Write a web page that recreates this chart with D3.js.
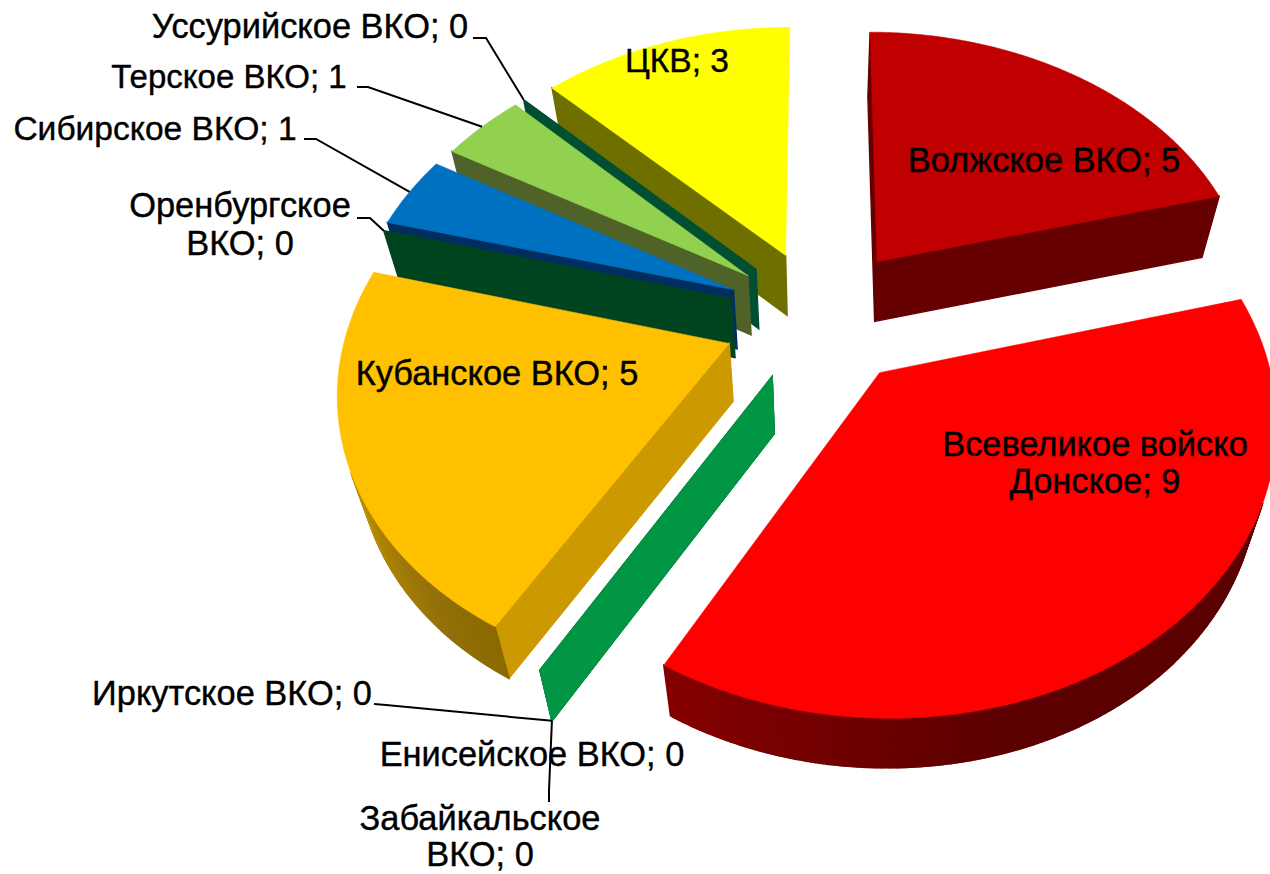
<!DOCTYPE html>
<html>
<head>
<meta charset="utf-8">
<script src="https://cdn.jsdelivr.net/npm/d3@7"></script>
<style>
    body { margin: 0; background: #fff; }
    svg { display: block; }
    text { font-family: "Liberation Sans", Arial, sans-serif; fill: #000; stroke: #000; stroke-width: 0.4px; text-anchor: middle; }
</style>
</head>
<body>
<div id="chart"></div>
<script>

var categories = ["Волжское ВКО", "Всевеликое войско Донское", "Енисейское ВКО", "Забайкальское ВКО", "Иркутское ВКО",
    "Кубанское ВКО", "Оренбургское ВКО", "Сибирское ВКО", "Терское ВКО", "Уссурийское ВКО", "ЦКВ"];
var values = [5, 9, 0, 0, 0, 5, 0, 1, 1, 0, 3];

var topColors = ["#C00000", "#FF0000", "#009644", "#009644", "#009644", "#FFC000", "#00441F", "#0070C0", "#92D050", "#004F32", "#FFFF00"];
var wallColors = ["#660000", "#600000", "#009644", "#006030", "#006030", "#CC9900", "#00441F", "#002E60", "#4F6228", "#004F32", "#6F6F00"];

// outer rim shading, only these two show it
var rimShades = {
    1: d3.scaleLinear().domain([75, 165, 210]).range(["#5C0000", "#5C0000", "#860000"]),
    5: d3.scaleLinear().domain([210, 222, 250, 285]).range(["#8A6A00", "#94700A", "#C49600", "#CC9900"])
};

// how far each slice is pulled out of the pie
var explodeBy = [0.254, 0.25, 0.244, 0.244, 0.244, 0.255, 0.244, 0.25, 0.244, 0.244, 0.244];

// label anchors: centre x, first baseline, font size, words before the line break
var labelX = [1044, 1095, 532, 480, 232, 497, 240, 155, 229, 310, 677];
var labelY = [172, 456, 766, 830, 705, 385, 217, 140, 88, 38, 72];
var labelSize = [34.4, 34.4, 34.4, 34.4, 34.4, 34.4, 34.4, 33.6, 33, 34.4, 33.5];
var labelBreak = [0, 2, 0, 1, 0, 0, 1, 0, 0, 0, 0];
var lineGap = [0, 37, 0, 36, 0, 0, 38, 0, 0, 0, 0];

// leader line start and elbow
var leaders = {
    3: [[549, 802], [549, 790]],
    4: [[374, 704], [386, 705]],
    6: [[357, 218], [370, 218]],
    7: [[304, 139], [316, 139]],
    8: [[357, 87], [368, 87]],
    9: [[473, 38], [486, 38]]
};

var width = 1270, height = 874;
var cx = 820, cy = 316;
var radius = 380, tilt = 0.73, persp = 0.145;
var depth = 58.5, shrink = 0.957;

var svg = d3.select("#chart").append("svg")
    .attr("width", width)
    .attr("height", height);

var pie = d3.pie().sort(null).startAngle(0).endAngle(2 * Math.PI);
var slices = pie(values);

var line = d3.line();

function project(u, v, bottom) {
    var f = 1 / (1 - persp * v);
    var x = cx + u * radius * f;
    var y = cy + v * radius * tilt * f;
    if (bottom) {
        x = cx + (x - cx) * shrink;
        y = cy + (y - cy) * shrink + depth * Math.pow(f, 0.7);
    }
    return [x, y];
}

function slicePoint(d, a, r, bottom) {
    var u = d.pull * Math.sin(d.mid) + r * Math.sin(a);
    var v = -d.pull * Math.cos(d.mid) - r * Math.cos(a);
    return project(u, v, bottom);
}

slices.forEach(function (d, i) {
    d.mid = (d.startAngle + d.endAngle) / 2;
    d.pull = explodeBy[i];
});

// back to front, on a tie the earlier category stays on top
var order = slices.map(function (d, i) { return i; }).sort(function (a, b) {
    var diff = -Math.cos(slices[a].mid) - -Math.cos(slices[b].mid);
    return Math.abs(diff) > 1e-6 ? diff : b - a;
});

order.forEach(function (i) {

    var d = slices[i];
    var g = svg.append("g");
    var steps = Math.max(1, Math.ceil((d.endAngle - d.startAngle) / 0.006));
    var angle = d3.scaleLinear().domain([0, steps]).range([d.startAngle, d.endAngle]);

    var rim = d3.range(steps + 1).map(function (s) { return angle(s); });

    function quad(p0, p1, color) {
        var q = [slicePoint(d, p0[0], p0[1], false), slicePoint(d, p1[0], p1[1], false),
            slicePoint(d, p1[0], p1[1], true), slicePoint(d, p0[0], p0[1], true)];
        // positive d3.polygonArea means the face looks at the viewer
        if (d3.polygonArea(q) > 0) {
            g.append("path")
                .attr("d", line(q) + "Z")
                .attr("fill", color)
                .attr("stroke", color)
                .attr("stroke-width", 1.4);
        }
    }

    quad([d.startAngle, 0], [d.startAngle, 1], wallColors[i]);
    // the wall at the closing seam of the pie does not show in the original
    if (d.endAngle < 2 * Math.PI - 1e-6) {
        quad([d.endAngle, 1], [d.endAngle, 0], wallColors[i]);
    }

    if (d.value > 0) {
        d3.range(steps).forEach(function (s) {
            var deg = (rim[s] + rim[s + 1]) / 2 * 180 / Math.PI;
            var color = rimShades[i] ? rimShades[i](deg) : wallColors[i];
            quad([rim[s], 1], [rim[s + 1], 1], color);
        });

        var top = [slicePoint(d, 0, 0, false)].concat(rim.map(function (a) {
            return slicePoint(d, a, 1, false);
        }));
        g.append("path")
            .attr("d", line(top) + "Z")
            .attr("fill", topColors[i])
            .attr("stroke", topColors[i])
            .attr("stroke-width", 0.5);
    }
});

// leader lines
Object.keys(leaders).forEach(function (key) {
    var i = +key;
    var d = slices[i];
    var end = slicePoint(d, d.mid, 1, i === 3 || i === 4);
    svg.append("path")
        .attr("d", line(leaders[i].concat([end])))
        .attr("fill", "none")
        .attr("stroke", "#000")
        .attr("stroke-width", 2);
});

// data labels
categories.forEach(function (name, i) {
    var words = (name + "; " + values[i]).split(" ");
    var lines = labelBreak[i] ? [words.slice(0, labelBreak[i]).join(" "), words.slice(labelBreak[i]).join(" ")] : [words.join(" ")];
    lines.forEach(function (t, n) {
        svg.append("text")
            .attr("x", labelX[i])
            .attr("y", labelY[i] + n * lineGap[i])
            .style("font-size", labelSize[i] + "px")
            .text(t);
    });
});

</script>
</body>
</html>
